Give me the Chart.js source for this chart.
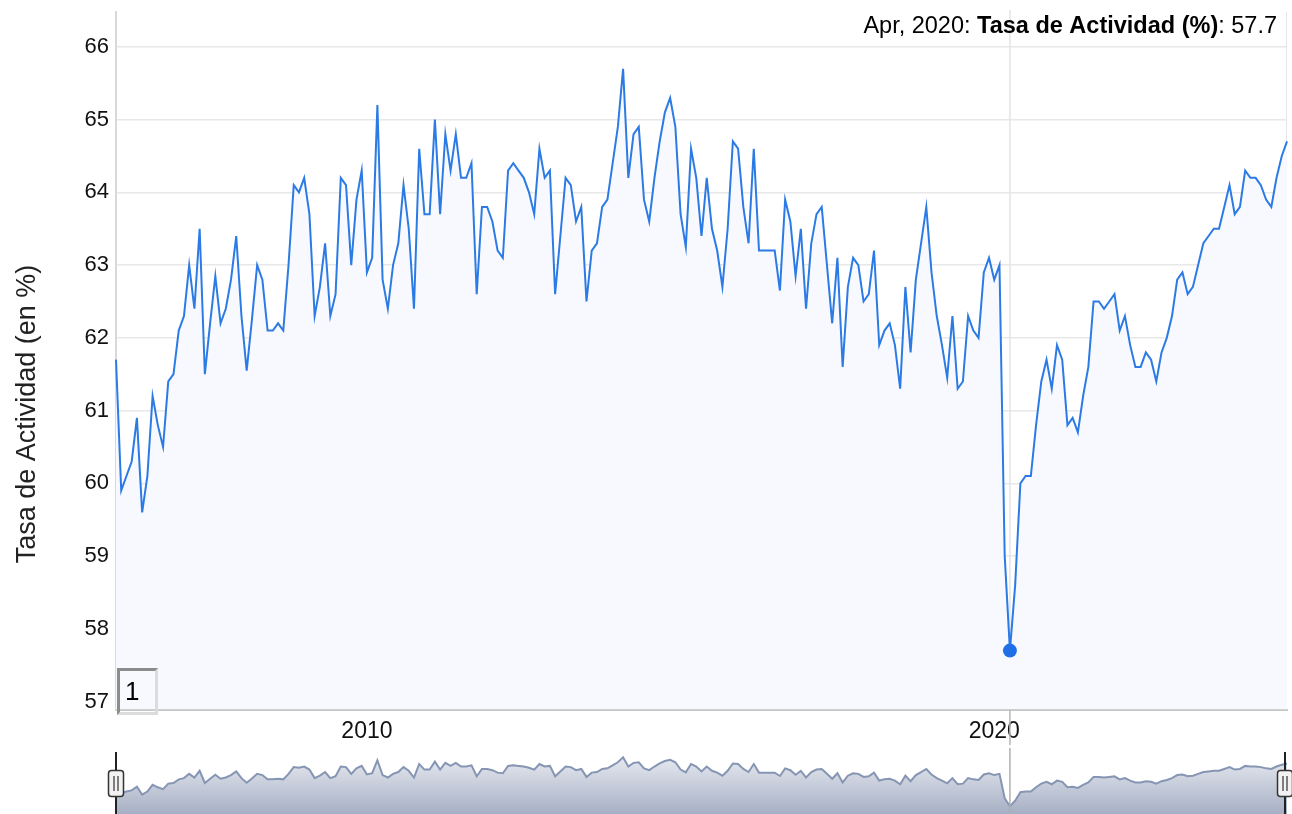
<!DOCTYPE html>
<html>
<head>
<meta charset="utf-8">
<script src="https://cdn.jsdelivr.net/npm/chart.js@4.4.1/dist/chart.umd.min.js"></script>
<style>
  html, body { margin: 0; padding: 0; background: #fff; }
  body { width: 1292px; height: 814px; position: relative; overflow: hidden; font-family: "Liberation Sans", Arial, sans-serif; }
  #main { position: absolute; left: 0; top: 0; }
  #nav { position: absolute; left: 0; top: 748px; }
  #rangeBox {
    position: absolute; left: 117px; top: 668px; width: 41px; height: 47px; box-sizing: border-box;
    border-top: 3px solid #8c8c8c; border-left: 3px solid #8c8c8c;
    border-right: 3px solid #dcdcdc; border-bottom: 3px solid #dcdcdc;
    font-size: 26px; line-height: 41px; padding-left: 5px; color: #000;
  }
</style>
</head>
<body>
<canvas id="main" width="1292" height="745"></canvas>
<canvas id="nav" width="1292" height="66"></canvas>
<div id="rangeBox">1</div>
<script>
// Tasa de Actividad (%), mensual desde enero 2006
const monthNames = ["Jan", "Feb", "Mar", "Apr", "May", "Jun", "Jul", "Aug", "Sep", "Oct", "Nov", "Dec"];
const firstYear = 2006;
const values = [
    61.7, 59.9, 60.1, 60.3, 60.9, 59.6, 60.1, 61.2, 60.8, 60.5, 61.4, 61.5, // 2006
    62.1, 62.3, 63.0, 62.4, 63.5, 61.5, 62.2, 62.85, 62.2, 62.4, 62.8, 63.4, // 2007
    62.3, 61.55, 62.25, 63.0, 62.8, 62.1, 62.1, 62.2, 62.1, 63.0, 64.1, 64.0, // 2008
    64.2, 63.7, 62.3, 62.7, 63.3, 62.3, 62.6, 64.2, 64.1, 63.0, 63.9, 64.3, // 2009
    62.9, 63.1, 65.2, 62.8, 62.4, 63.0, 63.3, 64.1, 63.5, 62.4, 64.6, 63.7, // 2010
    63.7, 65.0, 63.7, 64.8, 64.3, 64.8, 64.2, 64.2, 64.4, 62.6, 63.8, 63.8, // 2011
    63.6, 63.2, 63.1, 64.3, 64.4, 64.3, 64.2, 64.0, 63.7, 64.6, 64.2, 64.3, // 2012
    62.6, 63.4, 64.2, 64.1, 63.6, 63.8, 62.5, 63.2, 63.3, 63.8, 63.9, 64.4, // 2013
    64.9, 65.7, 64.2, 64.8, 64.9, 63.9, 63.6, 64.2, 64.7, 65.1, 65.3, 64.9, // 2014
    63.7, 63.25, 64.6, 64.2, 63.4, 64.2, 63.5, 63.2, 62.7, 63.5, 64.7, 64.6, // 2015
    63.8, 63.3, 64.6, 63.2, 63.2, 63.2, 63.2, 62.65, 63.9, 63.6, 62.85, 63.5, // 2016
    62.4, 63.3, 63.7, 63.8, 63.0, 62.2, 63.1, 61.6, 62.7, 63.1, 63.0, 62.5, // 2017
    62.6, 63.2, 61.9, 62.1, 62.2, 61.9, 61.3, 62.7, 61.8, 62.8, 63.3, 63.8, // 2018
    62.9, 62.3, 61.9, 61.45, 62.3, 61.3, 61.4, 62.3, 62.1, 62.0, 62.9, 63.1, // 2019
    62.8, 63.0, 59.0, 57.7, 58.6, 60.0, 60.1, 60.1, 60.8, 61.4, 61.7, 61.3, // 2020
    61.9, 61.7, 60.8, 60.9, 60.7, 61.2, 61.6, 62.5, 62.5, 62.4, 62.5, 62.6, // 2021
    62.1, 62.3, 61.9, 61.6, 61.6, 61.8, 61.7, 61.4, 61.8, 62.0, 62.3, 62.8, // 2022
    62.9, 62.6, 62.7, 63.0, 63.3, 63.4, 63.5, 63.5, 63.8, 64.1, 63.7, 63.8, // 2023
    64.3, 64.2, 64.2, 64.1, 63.9, 63.8, 64.2, 64.5, 64.7                    // 2024
];
const yTicks = [57, 58, 59, 60, 61, 62, 63, 64, 65, 66];
const xTickYears = ["2010", "2020"];
const seriesName = "Tasa de Actividad (%)";
const axisTitle = "Tasa de Actividad (en %)";
const hoverLabel = "Apr, 2020";

// etiquetas "Mes, Año"
const labels = values.map((v, i) => monthNames[i % 12] + ", " + (firstYear + Math.floor(i / 12)));
const xTickIdx = xTickYears.map(y => labels.indexOf("Jan, " + y));
const hoverIndex = labels.indexOf(hoverLabel);

const FONT = '"Liberation Sans", Arial, sans-serif';

// linea vertical, titulo del eje y texto del punto activo
const crosshair = {
    id: "crosshair",
    beforeDatasetsDraw(chart) {
        const ctx = chart.ctx;
        const area = chart.chartArea;
        const x = chart.scales.x.getPixelForValue(hoverIndex);
        ctx.save();
        ctx.lineWidth = 1.5;
        ctx.strokeStyle = "#e3e3e3";
        ctx.beginPath();
        ctx.moveTo(x, area.top - 2);
        ctx.lineTo(x, area.bottom);
        ctx.stroke();
        ctx.strokeStyle = "#b8b8b8";
        ctx.beginPath();
        ctx.moveTo(x, area.bottom);
        ctx.lineTo(x, chart.height);
        ctx.stroke();
        // borde derecho
        ctx.lineWidth = 1;
        ctx.strokeStyle = "#e6e6e6";
        ctx.beginPath();
        ctx.moveTo(area.right - 0.5, area.top);
        ctx.lineTo(area.right - 0.5, area.bottom);
        ctx.stroke();
        ctx.restore();
    },
    afterDraw(chart) {
        const ctx = chart.ctx;
        ctx.save();
        // titulo del eje Y
        ctx.translate(28, 414);
        ctx.rotate(-Math.PI / 2);
        ctx.font = "27px " + FONT;
        ctx.fillStyle = "#222";
        ctx.textAlign = "center";
        ctx.textBaseline = "middle";
        ctx.fillText(axisTitle, 0, 0);
        ctx.restore();

        const parts = [
            [labels[hoverIndex] + ": ", "23.5px " + FONT],
            [seriesName, "bold 23.5px " + FONT],
            [": " + values[hoverIndex].toFixed(1), "23.5px " + FONT]
        ];
        ctx.save();
        ctx.fillStyle = "#000";
        ctx.textBaseline = "alphabetic";
        let total = 0;
        parts.forEach(p => { ctx.font = p[1]; total += ctx.measureText(p[0]).width; });
        let x = 1277 - total;
        parts.forEach(p => {
            ctx.font = p[1];
            ctx.fillText(p[0], x, 32.5);
            x += ctx.measureText(p[0]).width;
        });
        ctx.restore();
    }
};

new Chart(document.getElementById("main"), {
    type: "line",
    data: {
        labels: labels,
        datasets: [{
            label: seriesName,
            data: values,
            borderColor: "#2c7be5",
            borderWidth: 2,
            backgroundColor: "#f7f9fe",
            fill: "start",
            tension: 0,
            pointRadius: ctx => ctx.dataIndex === hoverIndex ? 7 : 0,
            pointBackgroundColor: "#1f6fe8",
            pointBorderWidth: 0,
            clip: false
        }]
    },
    options: {
        responsive: false,
        animation: false,
        events: [],
        layout: { padding: { top: 12, right: 5, left: 0, bottom: 0 } },
        plugins: {
            legend: { display: false },
            tooltip: { enabled: false }
        },
        scales: {
            x: {
                type: "category",
                afterBuildTicks: s => { s.ticks = xTickIdx.map(v => ({ value: v })); },
                afterFit: s => { s.height = 35.5; s.paddingLeft = 0; s.paddingRight = 0; },
                ticks: {
                    autoSkip: false,
                    maxRotation: 0,
                    padding: 0,
                    color: "#111",
                    font: { family: FONT, size: 23 },
                    callback: v => labels[v].slice(-4)
                },
                grid: { display: false },
                border: { color: "#c8c8c8", width: 2 }
            },
            y: {
                min: 56.89,
                max: 66.48,
                afterBuildTicks: s => { s.ticks = yTicks.map(v => ({ value: v })); },
                afterFit: s => { s.width = 116; s.paddingTop = 0; s.paddingBottom = 0; },
                ticks: {
                    padding: 7,
                    color: "#111",
                    font: { family: FONT, size: 22 }
                },
                grid: { color: "#e8e8e8", lineWidth: 1.5, drawTicks: false },
                border: { color: "#d9d9d9", width: 2 }
            }
        }
    },
    plugins: [crosshair]
});

// navegador inferior
const navHandles = {
    id: "navHandles",
    afterDatasetsDraw(chart) {
        const ctx = chart.ctx;
        const area = chart.chartArea;
        const hx = chart.scales.x.getPixelForValue(hoverIndex);
        ctx.save();
        ctx.lineWidth = 1.5;
        ctx.strokeStyle = "#b0b0b0";
        ctx.beginPath();
        ctx.moveTo(hx, 0);
        ctx.lineTo(hx, chart.height);
        ctx.stroke();
        [area.left, area.right - 2].forEach(x => {
            ctx.strokeStyle = "#222";
            ctx.lineWidth = 2;
            ctx.beginPath();
            ctx.moveTo(x, 4);
            ctx.lineTo(x, chart.height);
            ctx.stroke();
            ctx.fillStyle = "#f2f2f2";
            ctx.strokeStyle = "#333";
            ctx.lineWidth = 1.5;
            ctx.beginPath();
            ctx.roundRect(x - 7.5, 22.5, 15, 26, 3);
            ctx.fill();
            ctx.stroke();
            ctx.lineWidth = 1.2;
            ctx.beginPath();
            ctx.moveTo(x - 2, 28); ctx.lineTo(x - 2, 43);
            ctx.moveTo(x + 2, 28); ctx.lineTo(x + 2, 43);
            ctx.stroke();
        });
        ctx.restore();
    }
};

new Chart(document.getElementById("nav"), {
    type: "line",
    data: {
        labels: labels,
        datasets: [{
            data: values,
            borderColor: "#8595b3",
            borderWidth: 2,
            fill: "start",
            backgroundColor: ctx => {
                const c = ctx.chart.ctx;
                const g = c.createLinearGradient(0, 0, 0, 66);
                g.addColorStop(0, "#f0f2f6");
                g.addColorStop(1, "#a6afc4");
                return g;
            },
            tension: 0,
            pointRadius: 0
        }]
    },
    options: {
        responsive: false,
        animation: false,
        events: [],
        layout: { padding: { top: 0, right: 5, left: 116, bottom: 0 } },
        plugins: { legend: { display: false }, tooltip: { enabled: false } },
        scales: {
            x: { display: false },
            y: { display: false, min: 56.43, max: 67.23 }
        }
    },
    plugins: [navHandles]
});
</script>
</body>
</html>
